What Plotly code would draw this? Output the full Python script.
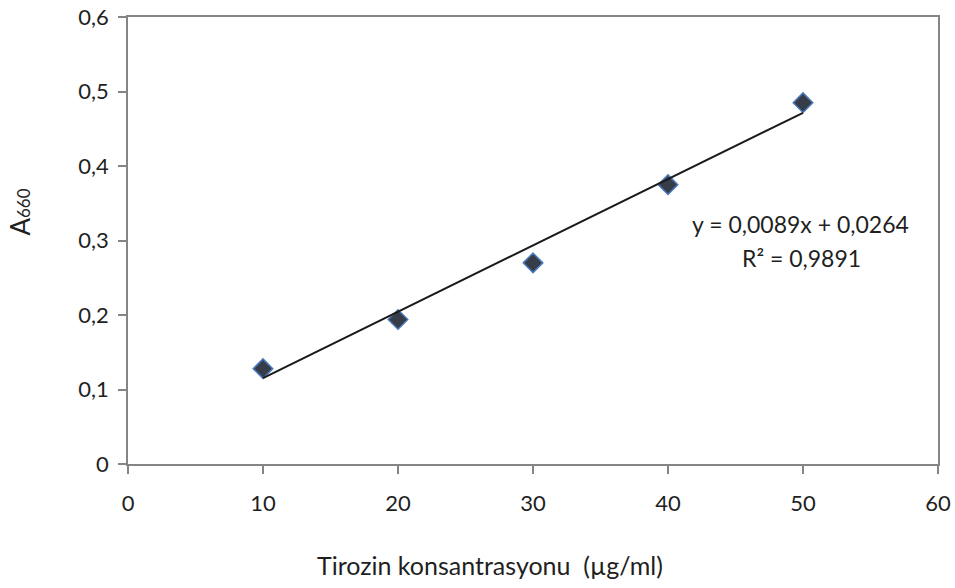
import plotly.graph_objects as go

# Tyrosine standard curve: concentration (µg/ml) vs absorbance at 660 nm
concentration = [10, 20, 30, 40, 50]
absorbance = [0.128, 0.194, 0.270, 0.375, 0.485]

# Linear trendline coefficients
slope = 0.0089
intercept = 0.0264
r_squared = 0.9891

x_ticks = [0, 10, 20, 30, 40, 50, 60]
y_ticks = [0, 0.1, 0.2, 0.3, 0.4, 0.5, 0.6]

def fmt(v, nd):
    return f"{v:.{nd}f}".replace(".", ",")

trend_x = [min(concentration), max(concentration)]
trend_y = [slope * x + intercept for x in trend_x]

FONT = "Lato, 'Open Sans', sans-serif"
TXT = "#1f1f1f"

fig = go.Figure()

fig.add_trace(go.Scatter(
    x=concentration, y=absorbance, mode="markers",
    marker=dict(symbol="diamond", size=15, color="#363c48",
                line=dict(color="#4a78b8", width=1.5)),
    showlegend=False, hoverinfo="x+y",
))

fig.add_trace(go.Scatter(
    x=trend_x, y=trend_y, mode="lines",
    line=dict(color="#1a1a1a", width=2),
    showlegend=False, hoverinfo="skip",
))

axis_common = dict(
    showgrid=False, zeroline=False, showline=True, linecolor="#858585",
    linewidth=1.5, mirror=True, ticks="outside", ticklen=8, tickwidth=1.5,
    tickcolor="#858585", tickfont=dict(family=FONT, size=22, color=TXT),
    automargin=False,
)

fig.update_xaxes(range=[0, 60], tickvals=x_ticks, ticktext=[str(t) for t in x_ticks],
                 ticklabelstandoff=11, **axis_common)
fig.update_yaxes(range=[0, 0.6], tickvals=y_ticks,
                 ticktext=["0" if t == 0 else fmt(t, 1) for t in y_ticks],
                 ticklabelstandoff=5, **axis_common)

annotations = [
    dict(text=f"y = {fmt(slope, 4)}x + {fmt(intercept, 4)}", x=49.8, y=0.322,
         xref="x", yref="y", showarrow=False, font=dict(family=FONT, size=23, color=TXT)),
    dict(text=f"R² = {fmt(r_squared, 4)}", x=49.9, y=0.2765,
         xref="x", yref="y", showarrow=False, font=dict(family=FONT, size=23, color=TXT)),
    dict(text="Tirozin konsantrasyonu\u00a0\u00a0(µg/ml)", x=0.447, y=-0.226,
         xref="paper", yref="paper", showarrow=False, xanchor="center", yanchor="middle",
         font=dict(family=FONT, size=25, color=TXT)),
    dict(text="A<span style='font-size:17px'>660</span>", x=-0.133, y=0.563,
         xref="paper", yref="paper", showarrow=False, textangle=-90,
         xanchor="center", yanchor="middle",
         font=dict(family=FONT, size=26, color=TXT)),
]

fig.update_layout(
    width=955, height=588,
    margin=dict(l=128, r=17, t=17, b=124),
    paper_bgcolor="white", plot_bgcolor="white",
    separators=", ",
    annotations=annotations,
)

fig.write_html("out.html")
